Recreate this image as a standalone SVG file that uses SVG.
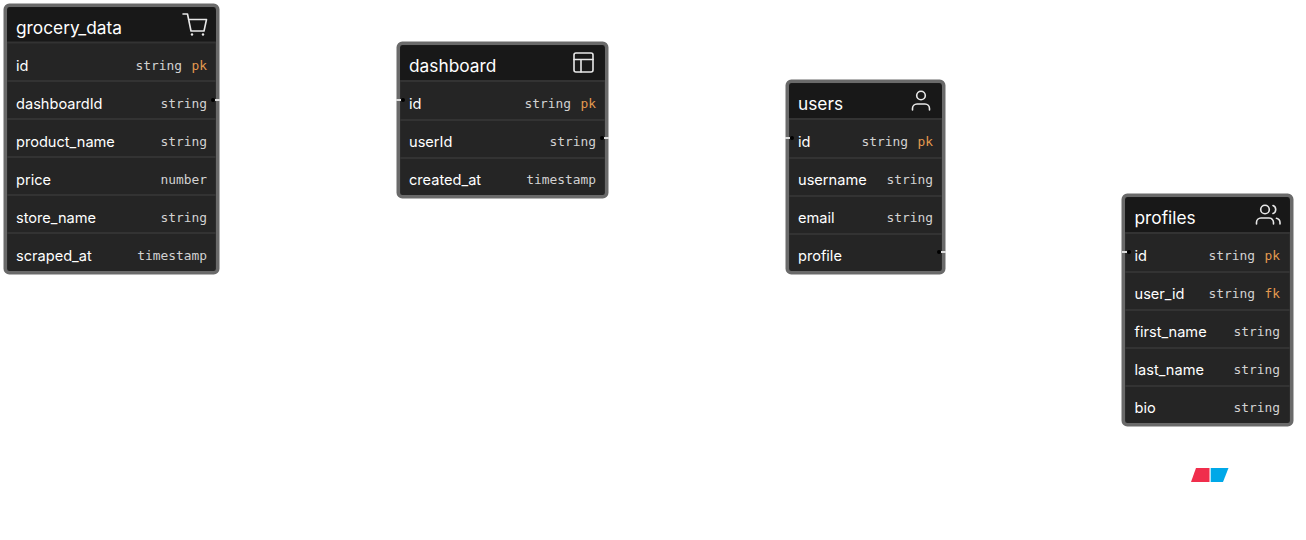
<svg xmlns="http://www.w3.org/2000/svg" width="1306" height="540" viewBox="0 0 1306 540">
<style>
.box{fill:#252525;stroke:#6a6a6a;stroke-width:3.600}
.hd{fill:#181818}
.dv{stroke:#333;stroke-width:2}
.t{font-family:Inter,"Liberation Sans",sans-serif;font-size:17.300px;fill:#fff}
.f{font-family:Inter,"Liberation Sans",sans-serif;font-size:14.600px;fill:#fff}
.m{font-family:"DejaVu Sans Mono","Liberation Mono",monospace;font-size:12.900px;fill:#d2d2d2;text-anchor:end}
.k{fill:#e39a4f}
.i{fill:none;stroke:#e8e8e8;stroke-width:1.600;stroke-linecap:round;stroke-linejoin:round}
.w{stroke:#ddd;stroke-width:2}
</style>
<g id="grocery_data">
<rect class="box" x="5.300" y="5.300" width="212.400" height="267.400" rx="4"/>
<path class="hd" d="M7.100 42V11a3.700 3.700 0 0 1 3.700-3.700H212a3.700 3.700 0 0 1 3.900 3.700V42Z"/>
<path class="dv" d="M7.100 42.500H215.900M7.100 81H215.900M7.100 119H215.900M7.100 157H215.900M7.100 195H215.900M7.100 233H215.900"/>
<text class="t" x="16" y="34">grocery_data</text>
<path class="i" d="M183 14h4.500l3.500 17h13l2.500-11.500H188.500"/>
<circle cx="192" cy="34.500" r="1.200" fill="#e8e8e8"/><circle cx="203" cy="34.500" r="1.200" fill="#e8e8e8"/>
<text class="f" x="16" y="71">id</text><text class="m" x="182" y="70">string</text><text class="m k" x="207" y="70">pk</text>
<text class="f" x="16" y="109">dashboardId</text><text class="m" x="207" y="108">string</text>
<text class="f" x="16" y="147">product_name</text><text class="m" x="207" y="146">string</text>
<text class="f" x="16" y="185">price</text><text class="m" x="207" y="184">number</text>
<text class="f" x="16" y="223">store_name</text><text class="m" x="207" y="222">string</text>
<text class="f" x="16" y="261">scraped_at</text><text class="m" x="207" y="260">timestamp</text>
</g>
<g id="dashboard">
<rect class="box" x="398.300" y="43.300" width="208.400" height="153.400" rx="4"/>
<path class="hd" d="M400.100 80V49a3.700 3.700 0 0 1 3.700-3.700H601a3.700 3.700 0 0 1 3.900 3.700V80Z"/>
<path class="dv" d="M400.100 81H604.900M400.100 120H604.900M400.100 158H604.900"/>
<text class="t" x="409" y="72">dashboard</text>
<rect class="i" x="574" y="53" width="19" height="19" rx="2"/><path class="i" d="M574 59.500h19M581 59.500V72"/>
<text class="f" x="409" y="109">id</text><text class="m" x="571" y="108">string</text><text class="m k" x="596" y="108">pk</text>
<text class="f" x="409" y="147">userId</text><text class="m" x="596" y="146">string</text>
<text class="f" x="409" y="185">created_at</text><text class="m" x="596" y="184">timestamp</text>
</g>
<g id="users">
<rect class="box" x="787.300" y="81.300" width="156.400" height="191.400" rx="4"/>
<path class="hd" d="M789.100 118V87a3.700 3.700 0 0 1 3.700-3.700H938a3.700 3.700 0 0 1 3.900 3.700V118Z"/>
<path class="dv" d="M789.100 119H941.900M789.100 158H941.900M789.100 196H941.900M789.100 234H941.900"/>
<text class="t" x="798" y="110">users</text>
<circle class="i" cx="921" cy="95.500" r="4.300"/><path class="i" d="M912.500 110v-1.500a4.500 4.500 0 0 1 4.500-4.500h8a4.500 4.500 0 0 1 4.500 4.500V110"/>
<text class="f" x="798" y="147">id</text><text class="m" x="908" y="146">string</text><text class="m k" x="933" y="146">pk</text>
<text class="f" x="798" y="185">username</text><text class="m" x="933" y="184">string</text>
<text class="f" x="798" y="223">email</text><text class="m" x="933" y="222">string</text>
<text class="f" x="798" y="261">profile</text>
</g>
<g id="profiles">
<rect class="box" x="1123.300" y="195.300" width="168.400" height="229.400" rx="4"/>
<path class="hd" d="M1125.100 232V201a3.700 3.700 0 0 1 3.700-3.700H1286a3.700 3.700 0 0 1 3.900 3.700V232Z"/>
<path class="dv" d="M1125.100 233H1289.900M1125.100 272H1289.900M1125.100 310H1289.900M1125.100 348H1289.900M1125.100 386H1289.900"/>
<text class="t" x="1134.500" y="224">profiles</text>
<circle class="i" cx="1265" cy="209.500" r="4.300"/><path class="i" d="M1256.500 224v-1.500a4.500 4.500 0 0 1 4.500-4.500h8a4.500 4.500 0 0 1 4.500 4.500V224M1273 205.500a4.300 4.300 0 0 1 0 8M1276.500 218.300a4.500 4.500 0 0 1 3.500 4.300V224"/>
<text class="f" x="1134.500" y="261">id</text><text class="m" x="1255" y="260">string</text><text class="m k" x="1280" y="260">pk</text>
<text class="f" x="1134.500" y="299">user_id</text><text class="m" x="1255" y="298">string</text><text class="m k" x="1280" y="298">fk</text>
<text class="f" x="1134.500" y="337">first_name</text><text class="m" x="1280" y="336">string</text>
<text class="f" x="1134.500" y="375">last_name</text><text class="m" x="1280" y="374">string</text>
<text class="f" x="1134.500" y="413">bio</text><text class="m" x="1280" y="412">string</text>
</g>
<g id="connectors">
<path class="w" d="M215 100H220M396 100H401M604 138H609M785 138H790M941 252H946M1122 252H1127"/>
<circle cx="213" cy="100" r="2"/><circle cx="403" cy="100" r="2"/><circle cx="602" cy="138" r="2"/><circle cx="792" cy="138" r="2"/><circle cx="939" cy="252" r="2"/><circle cx="1129" cy="252" r="2"/>
</g>
<g id="logo">
<path fill="#f02e4c" d="M1196 468H1209.500V482H1191Z"/>
<path fill="#00a8e8" d="M1210.700 468H1228.500L1223 482H1210.700Z"/>
</g>
</svg>
